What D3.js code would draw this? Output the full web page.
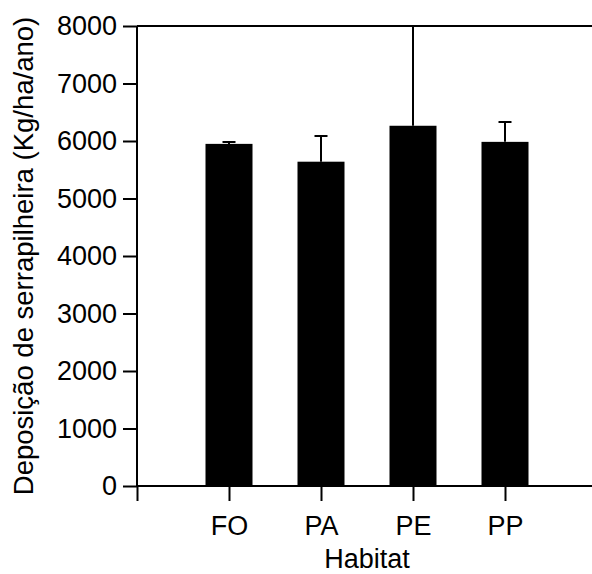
<!DOCTYPE html>
<html>
<head>
<meta charset="utf-8">
<script src="https://cdn.jsdelivr.net/npm/d3@7"></script>
<style>
  html, body { margin: 0; padding: 0; background: #fff; }
  svg { display: block; }
  text { font-family: "Liberation Sans", Arial, sans-serif; fill: #000; }
</style>
</head>
<body>
<svg id="chart" width="592" height="574"></svg>
<script>
const categories = ["FO", "PA", "PE", "PP"];
const means = [5950, 5640, 6265, 5985];
const errTops = [5983, 6087, 8000, 6330];
const yTicks = [0, 1000, 2000, 3000, 4000, 5000, 6000, 7000, 8000];
const xLabel = "Habitat";
const yLabel = "Deposição de serrapilheira (Kg/ha/ano)";

const svg = d3.select("#chart");
const x = d3.scaleLinear().domain([0, 5]).range([137, 597]);
const y = d3.scaleLinear().domain([0, 8000]).range([486, 26]);
const barW = 47, capW = 13, lw = 2, fs = 27;

// bars
svg.append("g").selectAll("rect").data(categories).join("rect")
  .attr("x", (d, i) => x(i + 1) - barW / 2)
  .attr("y", (d, i) => y(means[i]))
  .attr("width", barW)
  .attr("height", (d, i) => y(0) - y(means[i]))
  .attr("fill", "#000");

// error bars
const eb = svg.append("g").attr("stroke", "#000").attr("stroke-width", lw);
categories.forEach((c, i) => {
  eb.append("line").attr("x1", x(i + 1)).attr("x2", x(i + 1))
    .attr("y1", y(means[i])).attr("y2", y(errTops[i]));
  eb.append("line").attr("x1", x(i + 1) - capW / 2).attr("x2", x(i + 1) + capW / 2)
    .attr("y1", y(errTops[i])).attr("y2", y(errTops[i]));
});

// top line at 8000
svg.append("line").attr("x1", x(0)).attr("x2", x(5))
  .attr("y1", y(8000)).attr("y2", y(8000))
  .attr("stroke", "#000").attr("stroke-width", lw);

// y axis
const yAxis = d3.axisLeft(y).tickValues(yTicks).tickSize(14).tickPadding(6).tickFormat(d3.format("d"));
const gy = svg.append("g").attr("transform", `translate(${x(0)},0)`).call(yAxis);
gy.attr("font-size", fs).attr("font-family", "Liberation Sans, Arial, sans-serif");
gy.select(".domain").attr("d", `M0,${y(0)}V${y(8000)}`).attr("stroke-width", lw);
gy.selectAll(".tick line").attr("stroke-width", lw);

// x axis
const xAxis = d3.axisBottom(x).tickValues([0, 1, 2, 3, 4, 5]).tickSize(15).tickPadding(15)
  .tickFormat(d => d >= 1 && d <= 4 ? categories[d - 1] : "");
const gx = svg.append("g").attr("transform", `translate(0,${y(0)})`).call(xAxis);
gx.attr("font-size", fs).attr("font-family", "Liberation Sans, Arial, sans-serif");
gx.select(".domain").attr("d", `M${x(0)},0H${x(5)}`).attr("stroke-width", lw);
gx.selectAll(".tick line").attr("stroke-width", lw);

// axis titles
svg.append("text").attr("x", x(2.5)).attr("y", 567.5).attr("text-anchor", "middle")
  .attr("font-size", fs).text(xLabel);
svg.append("text").attr("transform", `translate(33,256) rotate(-90)`)
  .attr("text-anchor", "middle").attr("font-size", 27.5).text(yLabel);
</script>
</body>
</html>
